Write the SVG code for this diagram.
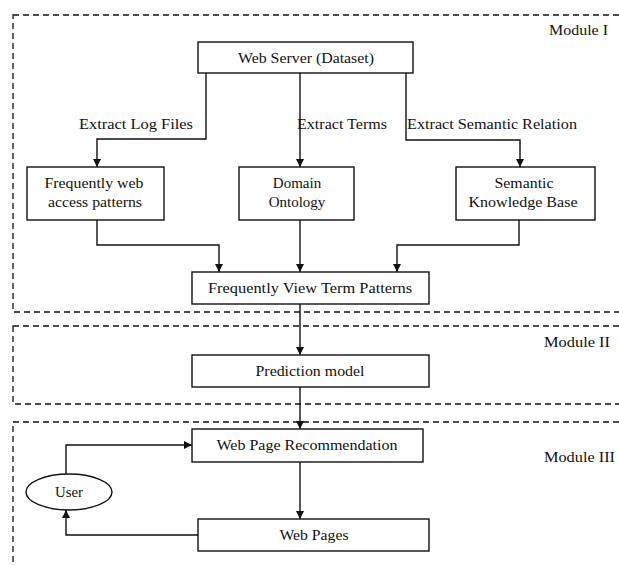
<svg xmlns="http://www.w3.org/2000/svg" width="619" height="565" viewBox="0 0 619 565">
<style>
text{font-family:"Liberation Serif","Times New Roman",serif;font-size:15px;fill:#111;}
.c{text-anchor:middle;}
.box{fill:#fff;stroke:#111;stroke-width:1.4;}
.mod{fill:none;stroke:#111;stroke-width:1.3;stroke-dasharray:6 4;}
.con{fill:none;stroke:#111;stroke-width:1.4;marker-end:url(#arr);}
</style>
<defs>
<marker id="arr" viewBox="0 0 8 8" refX="8" refY="4" markerWidth="8" markerHeight="8" markerUnits="userSpaceOnUse" orient="auto">
<path d="M0,0 L8,4 L0,8 z" fill="#111"/>
</marker>
</defs>
<rect width="619" height="565" fill="#fff"/>
<g id="modules">
<rect class="mod" x="13" y="15" width="620" height="297"/>
<text x="549" y="35" textLength="59" lengthAdjust="spacingAndGlyphs">Module I</text>
<rect class="mod" x="13" y="326" width="620" height="78"/>
<text x="544" y="347" textLength="66" lengthAdjust="spacingAndGlyphs">Module II</text>
<rect class="mod" x="13" y="422" width="620" height="160"/>
<text x="544" y="462" textLength="71" lengthAdjust="spacingAndGlyphs">Module III</text>
</g>
<g id="connectors">
<path class="con" d="M206,73 V139 H97 V167"/>
<path class="con" d="M300,73 V167"/>
<path class="con" d="M406,73 V140 H520 V167"/>
<path class="con" d="M97,220 V245 H219 V272"/>
<path class="con" d="M300,220 V272"/>
<path class="con" d="M519,220 V245 H397 V272"/>
<path class="con" d="M300,304 V355"/>
<path class="con" d="M300,387 V429"/>
<path class="con" d="M300,462 V519"/>
<path class="con" d="M66,474 V445 H192"/>
<path class="con" d="M198,535 H66 V510"/>
<text x="79" y="129" textLength="114" lengthAdjust="spacingAndGlyphs">Extract Log Files</text>
<text x="297" y="129" textLength="90" lengthAdjust="spacingAndGlyphs">Extract Terms</text>
<text x="407" y="129" textLength="170" lengthAdjust="spacingAndGlyphs">Extract Semantic Relation</text>
</g>
<g id="web-server">
<rect class="box" x="198" y="42" width="215" height="31"/>
<text class="c" x="306" y="63" textLength="136" lengthAdjust="spacingAndGlyphs">Web Server (Dataset)</text>
</g>
<g id="frequent-access">
<rect class="box" x="27" y="167" width="137" height="53"/>
<text class="c" x="94" y="188" textLength="99" lengthAdjust="spacingAndGlyphs">Frequently web</text>
<text class="c" x="95" y="207" textLength="94" lengthAdjust="spacingAndGlyphs">access patterns</text>
</g>
<g id="domain-ontology">
<rect class="box" x="239" y="167" width="115" height="53"/>
<text class="c" x="297" y="188">Domain</text>
<text class="c" x="297" y="207">Ontology</text>
</g>
<g id="semantic-kb">
<rect class="box" x="456" y="167" width="139" height="53"/>
<text class="c" x="524" y="188" textLength="59" lengthAdjust="spacingAndGlyphs">Semantic</text>
<text class="c" x="523" y="207" textLength="109" lengthAdjust="spacingAndGlyphs">Knowledge Base</text>
</g>
<g id="fvtp">
<rect class="box" x="192" y="272" width="237" height="32"/>
<text class="c" x="310" y="293" textLength="204" lengthAdjust="spacingAndGlyphs">Frequently View Term Patterns</text>
</g>
<g id="prediction">
<rect class="box" x="192" y="355" width="237" height="32"/>
<text class="c" x="310" y="376" textLength="109" lengthAdjust="spacingAndGlyphs">Prediction model</text>
</g>
<g id="recommendation">
<rect class="box" x="192" y="429" width="231" height="33"/>
<text class="c" x="307" y="450" textLength="181" lengthAdjust="spacingAndGlyphs">Web Page Recommendation</text>
</g>
<g id="web-pages">
<rect class="box" x="198" y="519" width="231" height="32"/>
<text class="c" x="314" y="540" textLength="69" lengthAdjust="spacingAndGlyphs">Web Pages</text>
</g>
<g id="user">
<ellipse class="box" cx="69" cy="492" rx="43" ry="18"/>
<text class="c" x="69" y="497" textLength="28" lengthAdjust="spacingAndGlyphs">User</text>
</g>
</svg>
